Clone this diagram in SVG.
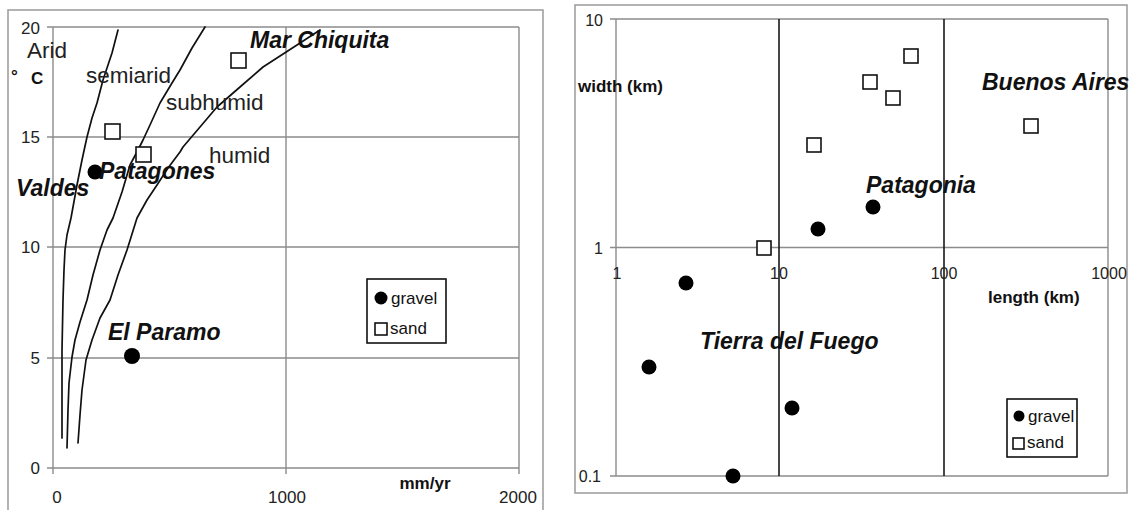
<svg xmlns="http://www.w3.org/2000/svg" width="1130" height="510" viewBox="0 0 1130 510">
<style>
.frame{fill:none;stroke:#a0a0a0;stroke-width:1.6}
.grid{fill:none;stroke:#8c8c8c;stroke-width:1.4}
.dark{fill:none;stroke:#1a1a1a;stroke-width:1.6}
.curve{fill:none;stroke:#111;stroke-width:1.7;stroke-linejoin:round;stroke-linecap:round}
.tick{font-family:"Liberation Sans",Arial,sans-serif;font-size:17px;fill:#222}
.rtick{font-family:"Liberation Sans",Arial,sans-serif;font-size:16px;fill:#222}
.zone{font-family:"Liberation Sans",Arial,sans-serif;font-size:22.5px;fill:#222}
.name{font-family:"Liberation Sans",Arial,sans-serif;font-size:23px;font-weight:bold;font-style:italic;fill:#111}
.axis{font-family:"Liberation Sans",Arial,sans-serif;font-size:17px;font-weight:bold;fill:#111}
.leg{font-family:"Liberation Sans",Arial,sans-serif;font-size:17px;fill:#111}
.sand{fill:#fff;stroke:#111;stroke-width:1.6}
.gravel{fill:#000}
</style>
<rect width="1130" height="510" fill="#fff"/>

<g id="chart-left">
  <rect class="frame" x="8" y="10" width="535" height="502"/>
  <g id="left-grid">
    <path class="grid" d="M53,27H519M53,137H519M53,247H519M53,358H519M53,468H519M53,27V468M286,27V468M519,27V468"/>
    <path class="grid" d="M47,27H53M47,137H53M47,247H53M47,358H53M47,468H53M53,468V474M286,468V474M519,468V474"/>
  </g>
  <g id="left-ticks">
    <text class="tick" x="40" y="34" text-anchor="end">20</text>
    <text class="tick" x="40" y="143" text-anchor="end">15</text>
    <text class="tick" x="40" y="253" text-anchor="end">10</text>
    <text class="tick" x="40" y="364" text-anchor="end">5</text>
    <text class="tick" x="40" y="474" text-anchor="end">0</text>
    <text class="tick" x="57" y="503" text-anchor="middle">0</text>
    <text class="tick" x="287" y="503" text-anchor="middle">1000</text>
    <text class="tick" x="518" y="503" text-anchor="middle">2000</text>
  </g>
  <g id="left-axis-labels">
    <text class="axis" x="11" y="82" font-size="20">°</text>
    <text class="axis" x="31" y="84">C</text>
    <text class="axis" x="425" y="489" text-anchor="middle" font-size="19">mm/yr</text>
  </g>
  <g id="left-curves">
    <polyline class="curve" points="62,438 62,350 63,300 64,270 65,250 67,235 71,218 77,185 82,160 87,137 92,118 97,103 103,80 108,65 112,53 118,30"/>
    <polyline class="curve" points="67,448 68,410 69,383 72,357 75,340 80,322 87,300 93,275 100,250 107,230 113,218 122,192 130,165 138,150 143,140 150,125 160,103 166,93 172,83 180,70 192,48 205,27"/>
    <polyline class="curve" points="78,443 80,415 82,390 86,360 92,340 100,318 110,300 118,275 127,250 137,218 147,200 157,185 168,168 180,152 183,147 200,127 217,107 240,87 263,67 280,56 297,45 320,30"/>
  </g>
  <g id="left-zones">
    <text class="zone" x="27" y="58">Arid</text>
    <text class="zone" x="86" y="83">semiarid</text>
    <text class="zone" x="166" y="110">subhumid</text>
    <text class="zone" x="209" y="163">humid</text>
  </g>
  <g id="left-points">
    <rect class="sand" x="231" y="53" width="15" height="15"/>
    <rect class="sand" x="105" y="124" width="15" height="15"/>
    <rect class="sand" x="136" y="147" width="15" height="15"/>
    <circle class="gravel" cx="95" cy="172" r="7.5"/>
    <circle class="gravel" cx="132" cy="356" r="8"/>
  </g>
  <g id="left-names">
    <text class="name" x="250" y="48">Mar Chiquita</text>
    <text class="name" x="99" y="179">Patagones</text>
    <text class="name" x="16" y="196">Valdes</text>
    <text class="name" x="108" y="340">El Paramo</text>
  </g>
  <g id="left-legend">
    <rect x="367" y="279" width="79" height="64" fill="#fff" stroke="#111" stroke-width="1.6"/>
    <circle class="gravel" cx="381" cy="298" r="6.5"/>
    <text class="leg" x="391" y="304">gravel</text>
    <rect class="sand" x="375" y="323" width="12" height="12" stroke-width="1.3"/>
    <text class="leg" x="390" y="334">sand</text>
  </g>
</g>

<g id="chart-right">
  <rect class="frame" x="575" y="5" width="552" height="488"/>
  <g id="right-grid">
    <path class="grid" d="M616,19H1108M616,247.5H1108M616,476H1108M616,19V476M1108,19V476"/>
    <path class="grid" d="M610,19H616M610,247.5H616M610,476H616"/>
    <path class="dark" d="M779,19V476M944,19V476"/>
  </g>
  <g id="right-ticks">
    <text class="rtick" x="603" y="26" text-anchor="end">10</text>
    <text class="rtick" x="603" y="254" text-anchor="end">1</text>
    <text class="rtick" x="601" y="482" text-anchor="end">0.1</text>
    <text class="rtick" x="617" y="279" text-anchor="middle">1</text>
    <text class="rtick" x="779" y="279" text-anchor="middle">10</text>
    <text class="rtick" x="944" y="279" text-anchor="middle">100</text>
    <text class="rtick" x="1109" y="279" text-anchor="middle">1000</text>
  </g>
  <g id="right-axis-labels">
    <text class="axis" x="578" y="92">width (km)</text>
    <text class="axis" x="988" y="303">length (km)</text>
  </g>
  <g id="right-points">
    <rect class="sand" x="807" y="138" width="14" height="14"/>
    <rect class="sand" x="757" y="241" width="14" height="14"/>
    <rect class="sand" x="904" y="49" width="14" height="14"/>
    <rect class="sand" x="863" y="75" width="14" height="14"/>
    <rect class="sand" x="886" y="91" width="14" height="14"/>
    <rect class="sand" x="1024" y="119" width="14" height="14"/>
    <circle class="gravel" cx="818" cy="229" r="7.5"/>
    <circle class="gravel" cx="873" cy="207" r="7.5"/>
    <circle class="gravel" cx="686" cy="283" r="7.5"/>
    <circle class="gravel" cx="649" cy="367" r="7.5"/>
    <circle class="gravel" cx="792" cy="408" r="7.5"/>
    <circle class="gravel" cx="733" cy="476" r="7.5"/>
  </g>
  <g id="right-names">
    <text class="name" x="982" y="90">Buenos Aires</text>
    <text class="name" x="866" y="193">Patagonia</text>
    <text class="name" x="700" y="349">Tierra del Fuego</text>
  </g>
  <g id="right-legend">
    <rect x="1007" y="399" width="70" height="58" fill="#fff" stroke="#111" stroke-width="1.6"/>
    <circle class="gravel" cx="1019" cy="416" r="5.5"/>
    <text class="leg" x="1028" y="422" font-size="15">gravel</text>
    <rect class="sand" x="1013" y="438" width="11" height="11" stroke-width="1.3"/>
    <text class="leg" x="1027" y="448" font-size="15">sand</text>
  </g>
</g>
</svg>
